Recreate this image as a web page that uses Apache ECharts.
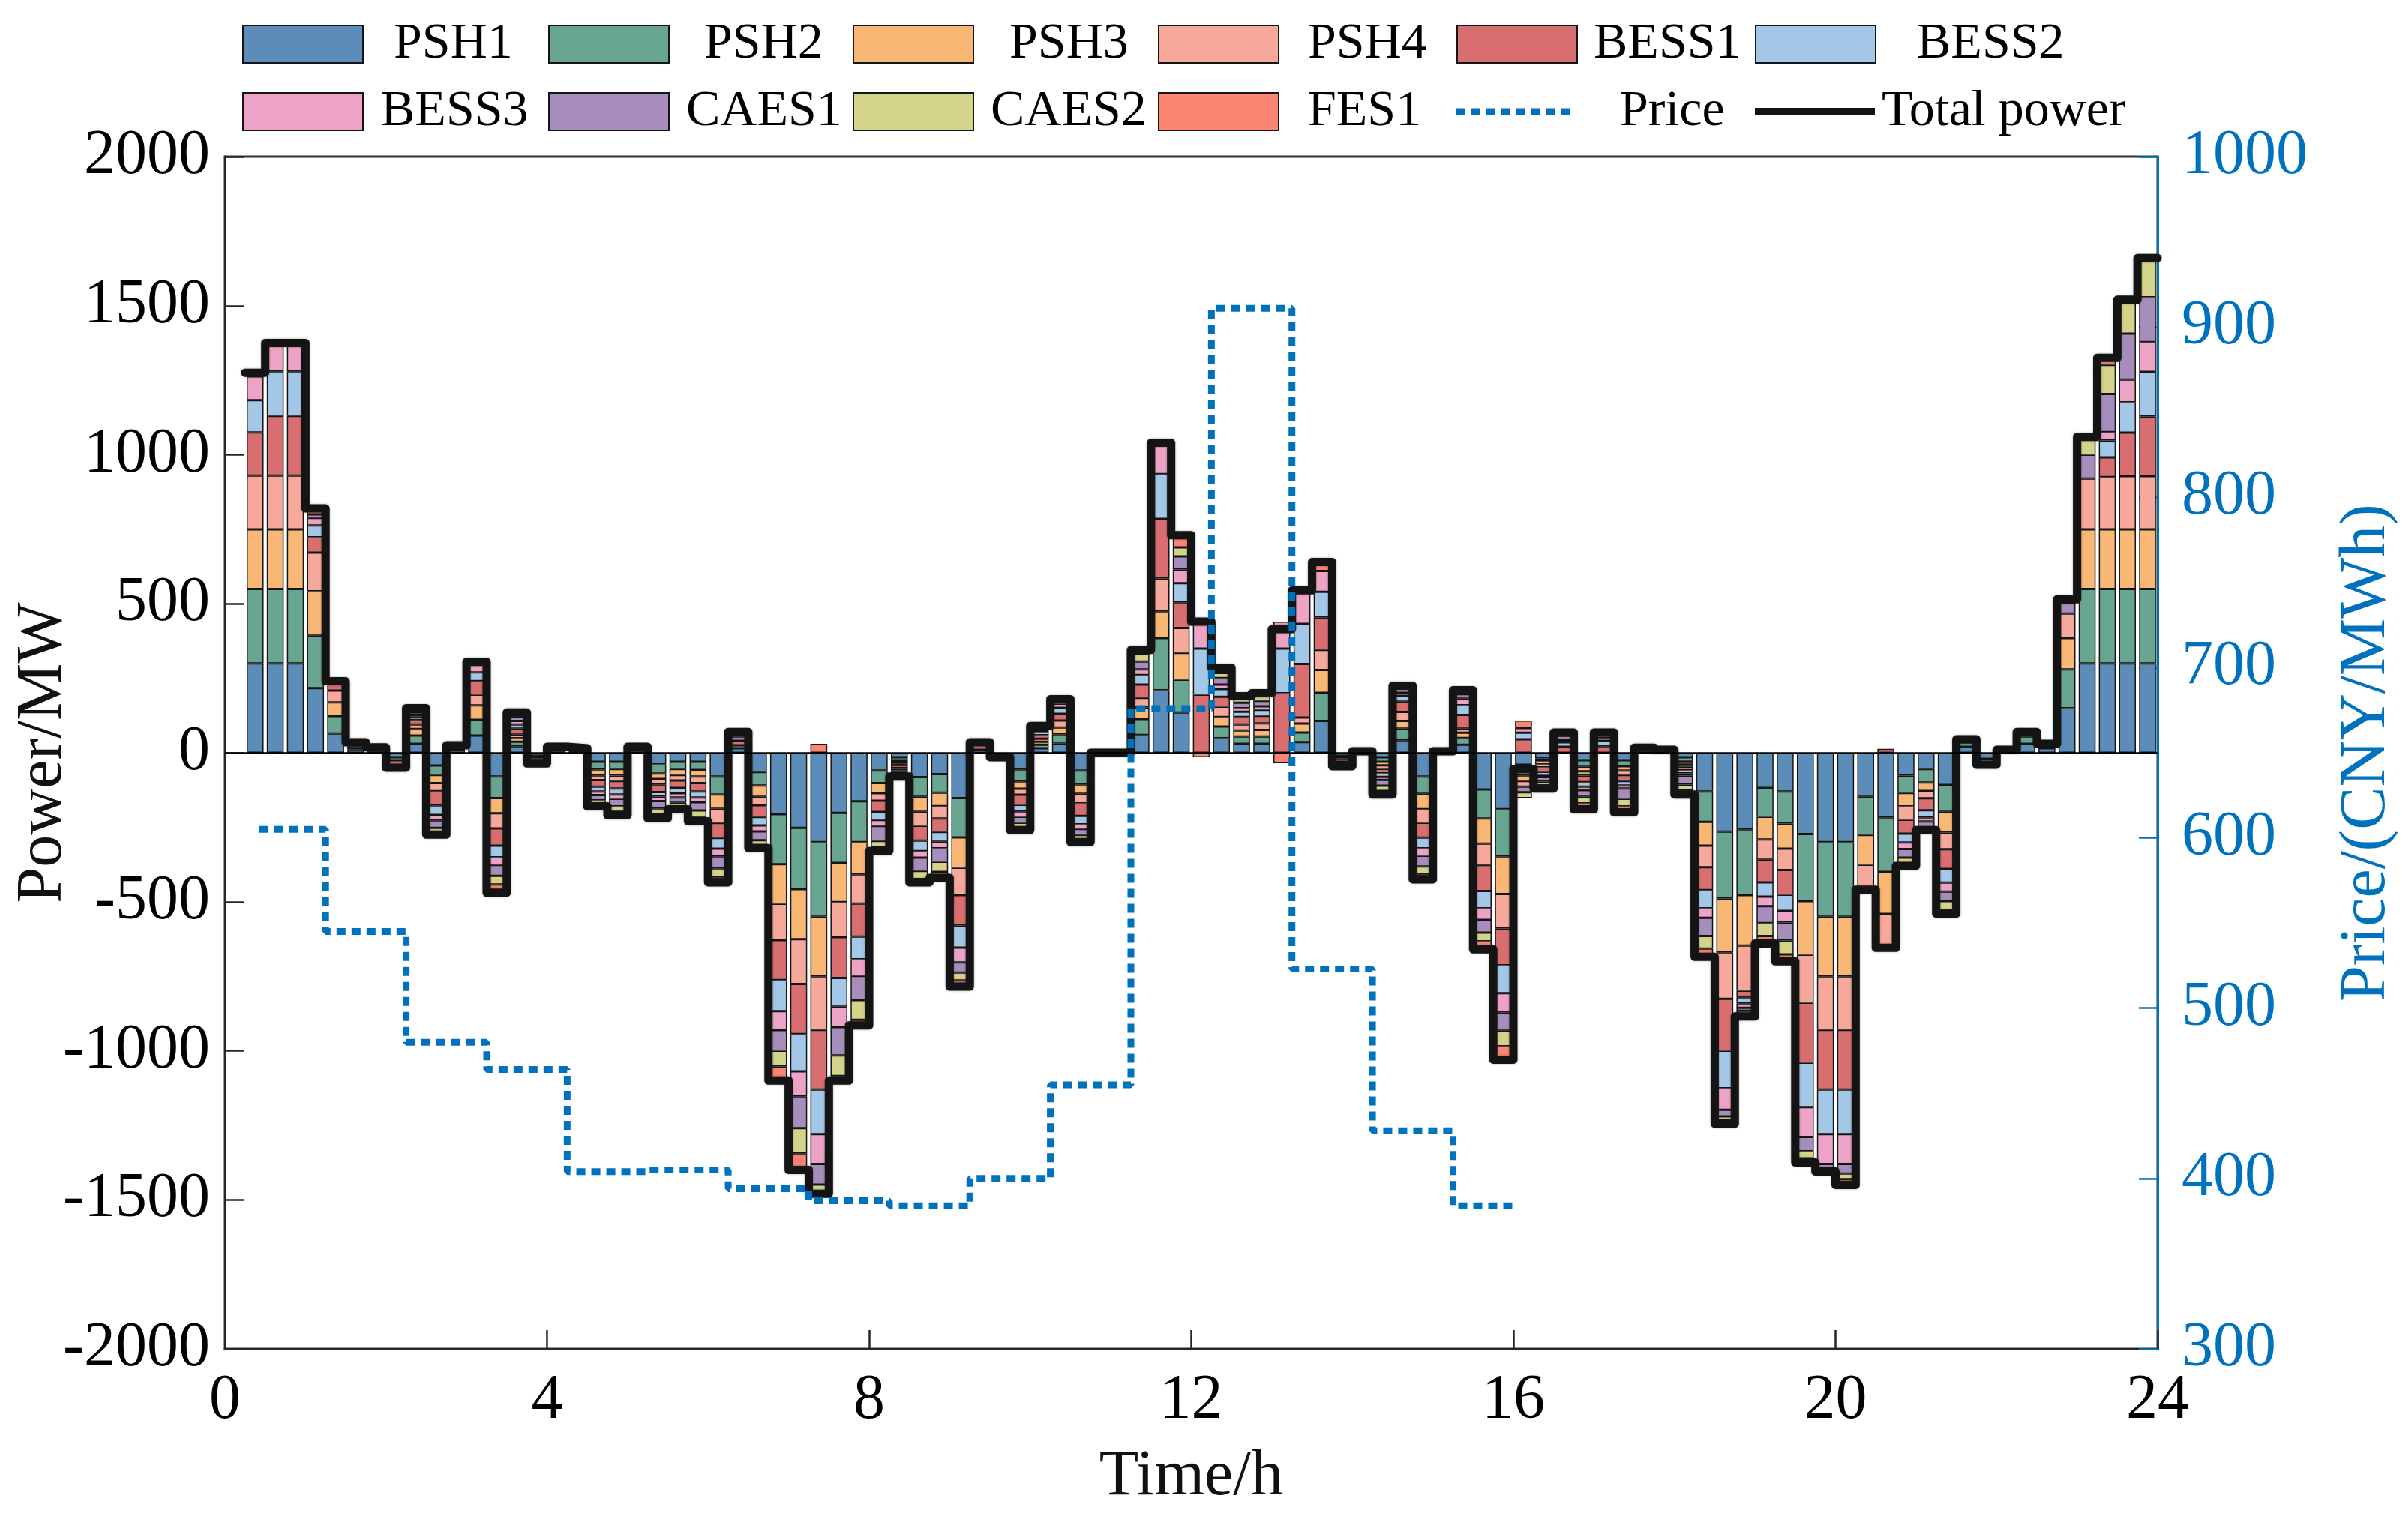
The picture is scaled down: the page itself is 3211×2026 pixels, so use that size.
<!DOCTYPE html>
<html><head><meta charset="utf-8">
<script src="https://cdn.jsdelivr.net/npm/echarts@6/dist/echarts.min.js"></script>
<style>html,body{margin:0;padding:0;background:#fff}#chart{width:3211px;height:2026px}</style>
</head><body><div id="chart"></div>
<script>
const FONT = '"Liberation Serif", "Times New Roman", serif';

const seriesNames = ['PSH1','PSH2','PSH3','PSH4','BESS1','BESS2','BESS3','CAES1','CAES2','FES1'];

// 96 quarter-hour slots (slot k spans k*0.25 h .. (k+1)*0.25 h)
const psh1 = [
0,300,300,300,217,65,12,8,-15,30,
-43,10,58,-80,22,-10,8,6,-30,-30,
8,-39,-30,-30,-80,15,-65,-206,-252,-300,
-202,-163,-60,-15,-82,-72,-152,10,-8,-56,
15,31,-60,0,0,60,210,135,0,49,
30,30,0,36,107,-10,5,-15,42,-80,
5,27,-123,-189,-40,-19,0,-25,0,-25,
10,10,-15,-130,-265,-257,-118,-130,-273,-300,
-300,-148,-217,-77,-55,-108,20,-20,10,30,
15,150,300,300,300,300];
const psh2 = [
0,250,250,250,176,58,10,5,-10,28,
-32,8,53,-72,15,-8,6,5,-26,-25,
7,-31,-25,-28,-60,10,-45,-168,-206,-250,
-168,-137,-42,-10,-66,-62,-132,0,-7,-40,
12,31,-46,0,0,53,175,110,0,39,
25,25,0,32,94,-8,0,-15,39,-58,
0,23,-98,-159,-36,-10,0,-22,0,-20,
7,0,-12,-102,-224,-221,-97,-108,-225,-250,
-250,-128,-183,-58,-45,-90,15,-12,0,25,
15,130,250,250,250,250];
const psh3 = [
0,200,200,200,149,46,8,5,0,22,
-27,7,48,-51,12,0,6,4,-20,-22,
5,-18,-20,-22,-48,0,-38,-133,-168,-200,
-131,-108,-34,-8,-50,-45,-102,0,0,-25,
10,23,-32,0,0,39,90,90,0,32,
20,22,0,30,77,0,0,-12,26,-51,
0,17,-84,-126,-19,-10,0,-15,0,-15,
0,0,-10,-80,-181,-169,-76,-84,-180,-200,
-200,-100,-141,-45,-28,-70,10,0,0,15,
0,105,200,200,200,200];
const psh4 = [
0,180,180,180,130,40,5,0,0,15,
-27,0,36,-51,12,0,0,0,-16,-18,
0,-18,-18,-22,-48,0,-28,-122,-150,-180,
-118,-98,-25,-8,-47,-42,-92,0,0,-20,
10,23,-32,0,0,32,110,84,0,35,
20,22,0,20,67,0,0,-12,30,-46,
0,14,-72,-116,-19,-10,0,-15,0,-15,
0,0,-10,-72,-156,-152,-68,-72,-161,-180,
-180,-84,-114,-45,-25,-56,0,0,0,0,
0,82,170,175,178,178];
const bess1 = [
0,145,200,200,51,22,0,0,-20,15,
-48,0,46,-58,20,-10,0,0,-22,-25,
0,-26,-25,-28,-50,15,-40,-134,-168,-200,
-137,-111,-38,-10,-50,-45,-102,20,0,-34,
12,23,-42,0,0,45,200,86,195,33,
25,25,200,180,109,-12,0,-15,35,-50,
0,46,-87,-123,45,-15,20,-22,22,-20,
0,0,-12,-77,-174,-22,-76,-83,-201,-200,
-200,0,0,-47,-40,-66,0,-8,0,0,
0,0,0,66,146,200];
const bess2 = [
0,108,150,150,40,0,0,0,0,12,
-32,0,29,-39,14,0,0,0,-16,-20,
0,-15,-18,-20,-36,0,-28,-104,-125,-150,
-96,-76,-27,-8,-35,-33,-74,0,0,-22,
10,20,-28,0,0,32,150,64,155,26,
18,20,150,135,86,-8,0,-12,19,-36,
0,33,-58,-94,22,-10,15,-15,18,-15,
0,0,-10,-61,-126,-20,-48,-54,-149,-150,
-150,0,0,-29,-24,-46,0,0,0,0,
0,0,0,57,102,150];
const bess3 = [
0,80,95,95,25,0,0,0,0,10,
-18,0,26,-26,12,0,0,0,-12,-15,
0,-15,-14,-16,-26,0,-20,-64,-84,-100,
-69,-56,-20,-6,-22,-22,-50,0,0,-18,
8,14,-16,0,0,19,100,46,90,15,
12,12,90,110,70,0,0,-10,10,-25,
0,22,-39,-65,16,-8,8,-12,10,-10,
0,0,-8,-32,-72,-15,-32,-39,-100,-100,
-100,0,0,-22,-14,-30,0,0,0,0,
0,0,0,28,76,100];
const caes1 = [
0,0,0,0,12,5,0,0,0,18,
-25,0,10,-36,15,-5,0,0,-18,-25,
0,-25,-18,-28,-40,15,-30,-69,-107,-69,
-95,-81,-50,-8,-45,-45,-34,0,0,-20,
8,10,-20,0,0,26,0,44,0,22,
18,18,0,0,0,0,0,-20,14,-36,
0,15,-43,-61,-19,-15,15,-22,10,-35,
0,0,-30,-61,-22,-10,-57,-60,-48,-15,
-32,0,0,-29,-20,-32,0,0,0,0,
0,36,80,128,154,150];
const caes2 = [
0,0,0,0,0,0,0,0,0,0,
-15,0,0,-29,8,0,0,0,-12,-18,
0,-20,-14,-22,-30,10,-16,-53,-84,-31,
-69,-66,-22,-5,-27,-34,-26,0,0,-15,
5,5,-16,0,0,26,0,30,0,17,
14,16,0,0,0,0,0,-17,10,-26,
0,10,-29,-52,-19,-13,10,-22,8,-25,
0,0,-20,-42,-14,-10,-43,-47,-24,-10,
-19,0,0,-25,-9,-29,0,0,0,0,
0,12,60,97,114,132];
const fes1 = [
0,14,0,0,20,4,0,0,-5,0,
-8,0,0,-28,5,-3,0,0,-8,-12,
0,-13,-8,-14,-17,5,-10,-47,-56,30,
-15,-19,-12,-2,-11,-20,-21,5,0,-10,
0,0,-8,0,0,13,5,41,-15,17,
8,10,-35,0,30,-7,0,-12,0,-17,
0,5,-27,-45,25,-10,0,-20,0,-20,
0,0,-13,-28,-11,-9,-25,-23,-14,0,
-19,0,13,-3,0,-13,0,0,0,0,
0,0,0,24,0,0];

// total power per slot (slot 0 is not drawn)
const totalPower = [
0,1275,1375,1375,820,240,35,18,-50,150,
-275,25,305,-470,135,-36,20,15,-180,-210,
20,-220,-190,-230,-435,70,-320,-1100,-1400,-1480,
-1100,-915,-330,-80,-435,-420,-785,35,-15,-260,
90,180,-300,0,0,345,1040,730,440,285,
190,200,415,545,640,-45,5,-140,225,-425,
5,210,-660,-1030,-55,-120,68,-190,68,-200,
17,10,-140,-685,-1245,-885,-640,-700,-1375,-1405,
-1450,-460,-655,-380,-260,-540,45,-40,10,70,
30,515,1060,1325,1520,1660];

// electricity price steps (CNY/MWh)
const priceTimes  = [0.42,1.25,2.25,3.25,4.25,5.25,6.25,7.25,8.25,9.25,10.25,11.25,12.25,13.25,14.25,15.25];
const priceValues = [605,545,480,464,404,405,394,387,384,400,455,676,911,523,428,384];
const priceEndTime = 16;

const xTickValues = [0,4,8,12,16,20,24];

const seriesValues = [psh1,psh2,psh3,psh4,bess1,bess2,bess3,caes1,caes2,fes1];
const seriesColors = ['#5B8DB8','#69A692','#F9B775','#F6A99B','#D96E71','#A3C8E7','#EDA3C6','#A78DBC','#D3D389','#FB8472'];

// categories: quarter-hour slot start labels
const slotLabels = [];
for (let k = 0; k < 96; k++) slotLabels.push((k * 0.25).toFixed(2));

const chart = echarts.init(document.getElementById('chart'), null, {renderer: 'canvas', width: 3211, height: 2026});

const barSeries = seriesNames.map((n, i) => ({
  name: n, type: 'bar', stack: 'power', xAxisIndex: 0, yAxisIndex: 0,
  barCategoryGap: '16%',
  data: seriesValues[i].map(v => v === 0 ? null : v),
  itemStyle: {color: seriesColors[i], borderColor: '#151515', borderWidth: 1.5},
  emphasis: {disabled: true},
  z: 2
}));

const totalData = [];
for (let s = 1; s < totalPower.length; s++) totalData.push([slotLabels[s] * 1, totalPower[s]]);
totalData.push([24, totalPower[totalPower.length - 1]]);

const priceData = priceTimes.map((t, i) => [t, priceValues[i]]);
priceData.push([priceEndTime, priceValues[priceValues.length - 1]]);

// legend icons for the two line series (tiny corner dots keep the 160x50 box)
const boxCorners = 'M0,0h0.01v0.01h-0.01z M159.99,49.99h0.01v0.01h-0.01z ';
let dots = '';
for (let x = 0; x < 160; x += 20) dots += 'M' + x + ',20.5h12v9h-12z ';
const priceIcon = 'path://' + boxCorners + dots;
const totalIcon = 'path://' + boxCorners + 'M0,20h160v10h-160z';

const legendLayout = [
  ['PSH1', 323, 0, 36], ['PSH2', 731, 0, 42], ['PSH3', 1137, 0, 43], ['PSH4', 1544, 0, 34], ['BESS1', 1942, 0, 17], ['BESS2', 2340, 0, 50],
  ['BESS3', 323, 1, 19], ['CAES1', 731, 1, 18], ['CAES2', 1137, 1, 18], ['FES1', 1544, 1, 34], ['Price', 1942, 1, 53], ['Total power', 2340, 1, 4]
];
const rowTop = [25, 115];
const legends = legendLayout.map(([name, left, row, pad], i) => ({
  data: [{name: name, icon: i < 10 ? 'rect' : (name === 'Price' ? priceIcon : totalIcon)}],
  left: left, top: rowTop[row], padding: 0, selectedMode: false,
  itemWidth: 160, itemHeight: 50,
  textStyle: {fontFamily: FONT, fontSize: 68, color: '#000', padding: [0, 0, 0, pad]}
}));

const option = {
  animation: false,
  backgroundColor: '#fff',
  textStyle: {fontFamily: FONT},
  legend: legends,
  grid: {left: 300, right: 334, top: 209, bottom: 227, show: true, borderColor: '#333', borderWidth: 3,
         containLabel: false, outerBoundsMode: 'none'},
  xAxis: [
    {type: 'category', data: slotLabels, show: false, boundaryGap: true},
    {type: 'value', min: 0, max: 24, interval: 4, position: 'bottom',
     axisLine: {show: true, lineStyle: {color: '#262626', width: 3}},
     axisTick: {show: true, inside: true, length: 25, lineStyle: {color: '#262626', width: 2.5}},
     axisLabel: {fontSize: 84, color: '#000', margin: 28, fontFamily: FONT,
                 formatter: v => xTickValues.indexOf(v) >= 0 ? String(v) : ''},
     splitLine: {show: false},
     name: 'Time/h', nameLocation: 'middle', nameGap: 128, nameMoveOverlap: false,
     nameTextStyle: {fontSize: 86, color: '#111', fontFamily: FONT}}
  ],
  yAxis: [
    {type: 'value', min: -2000, max: 2000, interval: 500, position: 'left',
     axisLine: {show: true, lineStyle: {color: '#262626', width: 3}},
     axisTick: {show: true, inside: true, length: 25, lineStyle: {color: '#262626', width: 2.5}},
     axisLabel: {fontSize: 84, color: '#000', margin: 20, fontFamily: FONT, formatter: v => String(v)},
     splitLine: {show: false},
     name: 'Power/MW', nameLocation: 'middle', nameGap: 199, nameRotate: 90, nameMoveOverlap: false,
     nameTextStyle: {fontSize: 86, color: '#111', fontFamily: FONT}},
    {type: 'value', min: 300, max: 1000, interval: 100, position: 'right',
     axisLine: {show: true, lineStyle: {color: '#0072BD', width: 3}},
     axisTick: {show: true, inside: true, length: 25, lineStyle: {color: '#0072BD', width: 2.5}},
     axisLabel: {fontSize: 84, color: '#0072BD', margin: 32, fontFamily: FONT, formatter: v => String(v)},
     splitLine: {show: false},
     name: 'Price/(CNY/MWh)', nameLocation: 'middle', nameGap: 236, nameRotate: 90, nameMoveOverlap: false,
     nameTextStyle: {fontSize: 86, color: '#0072BD', fontFamily: FONT}}
  ],
  series: barSeries.concat([
    {name: 'Total power', type: 'line', xAxisIndex: 1, yAxisIndex: 0, step: 'end', symbol: 'none',
     data: totalData, z: 4,
     lineStyle: {color: '#141414', width: 11, join: 'round', cap: 'round', shadowColor: 'rgba(0,0,0,0.35)', shadowBlur: 3},
     itemStyle: {color: '#141414'},
     emphasis: {disabled: true},
     markLine: {silent: true, symbol: 'none', label: {show: false}, animation: false,
                lineStyle: {color: '#000', width: 2.5, type: 'solid'}, data: [{yAxis: 0}]}},
    {name: 'Price', type: 'line', xAxisIndex: 1, yAxisIndex: 1, step: 'end', symbol: 'none',
     data: priceData, z: 5,
     lineStyle: {color: '#0072BD', width: 9, type: [12, 8]},
     itemStyle: {color: '#0072BD'},
     emphasis: {disabled: true}}
  ])
};
chart.setOption(option);
</script></body></html>
